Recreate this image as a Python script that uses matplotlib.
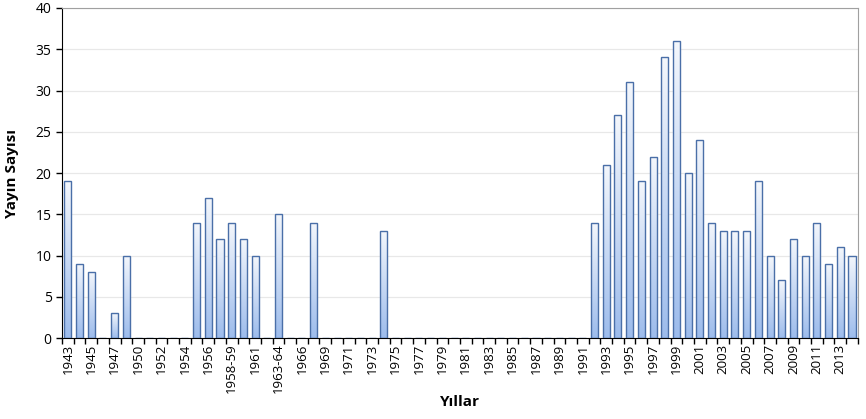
import matplotlib
matplotlib.use('Agg')
import matplotlib.pyplot as plt
import numpy as np
from matplotlib.colors import LinearSegmentedColormap

years = ['1943', '1944', '1945', '1946', '1947', '1948', '1950', '1951', '1952', '1953',
         '1954', '1955', '1956', '1957', '1958-59', '1960', '1961', '1962', '1963-64', '1965',
         '1966', '1967', '1969', '1970'] + [str(y) for y in range(1971, 2015)]
counts = [19, 9, 8, 0, 3, 10, 0, 0, 0, 0,
          0, 14, 17, 12, 14, 12, 10, 0, 15, 0,
          0, 14, 0, 0,
          # 1971-1991
          0, 0, 0, 13, 0, 0, 0, 0, 0, 0, 0, 0, 0, 0, 0, 0, 0, 0, 0, 0, 0,
          # 1992-2014
          14, 21, 27, 31, 19, 22, 34, 36, 20, 24, 14, 13, 13, 13, 19, 10, 7, 12, 10, 14, 9, 11, 10]

plt.rcParams['font.family'] = ['Open Sans', 'DejaVu Sans']

fig = plt.figure(figsize=(8.66, 4.19), dpi=100)
ax = fig.add_axes([0.0716, 0.193, 0.919, 0.788])

x = np.arange(len(years))
bars = ax.bar(x, counts, width=0.6, facecolor='none', edgecolor='#4a6fa8', linewidth=1.0, zorder=3)

# gradient fill inside every bar, light at the top
cmap = LinearSegmentedColormap.from_list('grad', ['#9dbcec', '#f4f7fc'])
grad = np.linspace(0, 1, 256).reshape(-1, 1)
for b in bars:
    h = b.get_height()
    if h <= 0:
        continue
    x0 = b.get_x()
    im = ax.imshow(grad, cmap=cmap, aspect='auto', origin='lower',
                   extent=[x0, x0 + b.get_width(), 0, h], zorder=2)
    im.set_clip_path(b)

ax.set_xlim(-0.5, len(years) - 0.5)
ax.set_ylim(0, 40)
ax.set_yticks(range(0, 41, 5))
ax.yaxis.grid(True, color='#e8e8e8', linewidth=0.9, zorder=0)
ax.set_axisbelow(True)

ax.set_xticks(x[::2])
ax.set_xticklabels(years[::2], rotation=90, fontsize=9.5)
ax.set_xticks(np.arange(-0.5, len(years), 1), minor=True)
ax.tick_params(axis='x', which='major', length=0, pad=4)
ax.tick_params(axis='x', which='minor', length=4, width=1, color='black')
ax.tick_params(axis='y', labelsize=10, length=4, width=1)

for s in ['top', 'right']:
    ax.spines[s].set_color('#a0a0a0')
ax.spines['left'].set_color('black')
ax.spines['bottom'].set_color('black')

ax.set_ylabel('Yayın Sayısı', fontsize=11, fontweight='bold', labelpad=12)
ax.set_xlabel('Yıllar', fontsize=11, fontweight='bold', labelpad=1)

fig.savefig('out.png', dpi=100)
